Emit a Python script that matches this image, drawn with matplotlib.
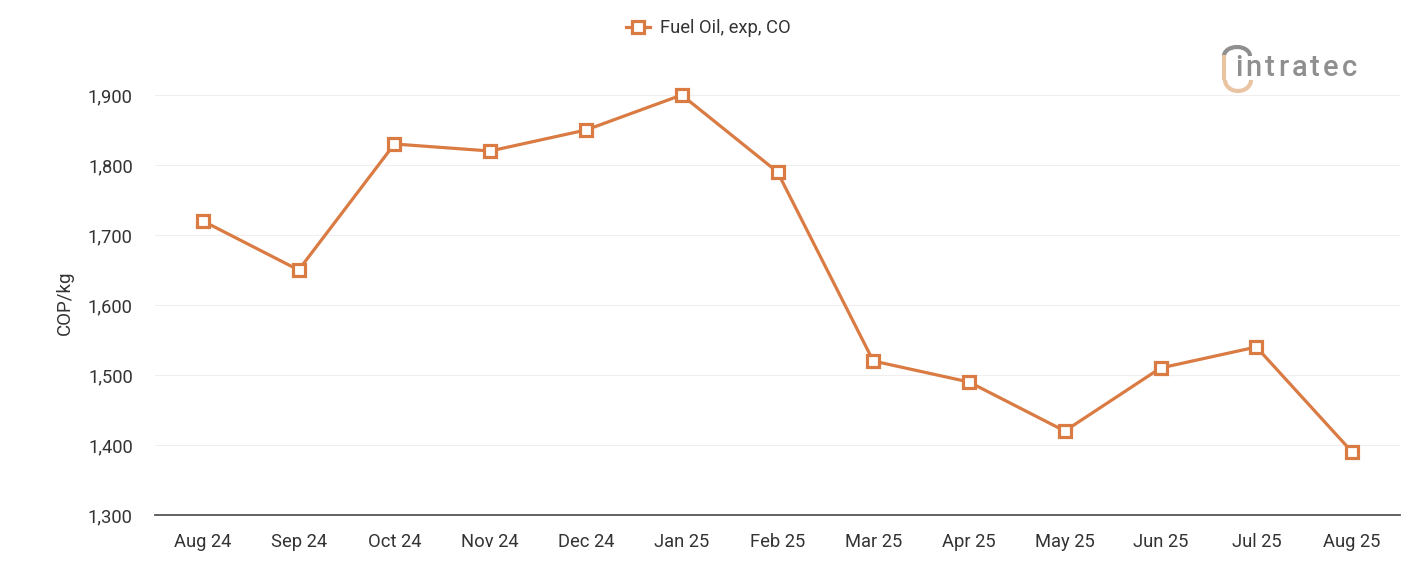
import matplotlib
matplotlib.use("Agg")
import matplotlib.pyplot as plt
from matplotlib.patches import Arc
from matplotlib.lines import Line2D
from matplotlib.transforms import IdentityTransform

months = ["Aug 24", "Sep 24", "Oct 24", "Nov 24", "Dec 24", "Jan 25", "Feb 25",
          "Mar 25", "Apr 25", "May 25", "Jun 25", "Jul 25", "Aug 25"]
fuel_oil = [1720, 1650, 1830, 1820, 1850, 1900, 1790, 1520, 1490, 1420, 1510, 1540, 1390]
yticks = [1300, 1400, 1500, 1600, 1700, 1800, 1900]
series_name = "Fuel Oil, exp, CO"
logo_text = "intratec"

plt.rcParams['font.family'] = ['Roboto', 'DejaVu Sans']
color = '#DA7B43'
txt = '#333333'
W, H = 1401, 561

fig = plt.figure(figsize=(W/100, H/100), dpi=100)
ax = fig.add_axes([155/W, 1 - 515/H, (1400-155)/W, (515-60)/H])

x = list(range(len(months)))
ax.plot(x, fuel_oil, color=color, lw=2.3, marker='s', markersize=8,
        markerfacecolor='white', markeredgecolor=color, markeredgewidth=2.3,
        label=series_name, zorder=3)

ax.set_xlim(-0.5, len(months) - 0.5)
ax.set_ylim(1300, 1300 + (515-60)/70*100)
ax.set_yticks(yticks)
ax.set_yticklabels([f"{v:,}" for v in yticks])
ax.set_xticks(x)
ax.set_xticklabels(months)
ax.grid(axis='y', color='#efefef', lw=0.8)
ax.set_axisbelow(True)
for s in ['top', 'right', 'left']:
    ax.spines[s].set_visible(False)
ax.spines['bottom'].set_color('#555555')
ax.spines['bottom'].set_linewidth(1.3)
ax.tick_params(axis='both', length=0, labelsize=13.2, colors=txt)
ax.tick_params(axis='x', pad=13)
ax.tick_params(axis='y', pad=16)

fig.text(65/W, 1 - 303/H, "COP/kg", rotation=90, fontsize=13.5, color=txt,
         ha='center', va='center')

leg = fig.legend(loc='center', bbox_to_anchor=(708/W, 1 - 28/H), frameon=False,
                 fontsize=13.2, handlelength=1.35, handletextpad=0.5)
for t in leg.get_texts():
    t.set_color(txt)

# logo
gray = '#8f8f8f'
orange_l = '#e9c4a3'
idt = IdentityTransform()
renderer = fig.canvas.get_renderer()
xpos = 1235.0
for ch in logo_text:
    t = fig.text(xpos / W, 1 - 76/H, ch, fontsize=21, color=gray,
                 fontweight='medium', va='baseline', ha='left')
    bb = t.get_window_extent(renderer=renderer)
    xpos += bb.width + 3.2
fig.patches.append(Arc((1237, H - 56), 26, 18, theta1=0, theta2=180,
                       color=gray, lw=3, transform=idt, figure=fig))
fig.lines.append(Line2D([1224, 1224], [H - 57, H - 78], color=orange_l, lw=3,
                        transform=idt, figure=fig))
fig.patches.append(Arc((1238, H - 80), 26, 22, theta1=180, theta2=360,
                       color=orange_l, lw=3, transform=idt, figure=fig))

fig.savefig("out.png", dpi=100)
